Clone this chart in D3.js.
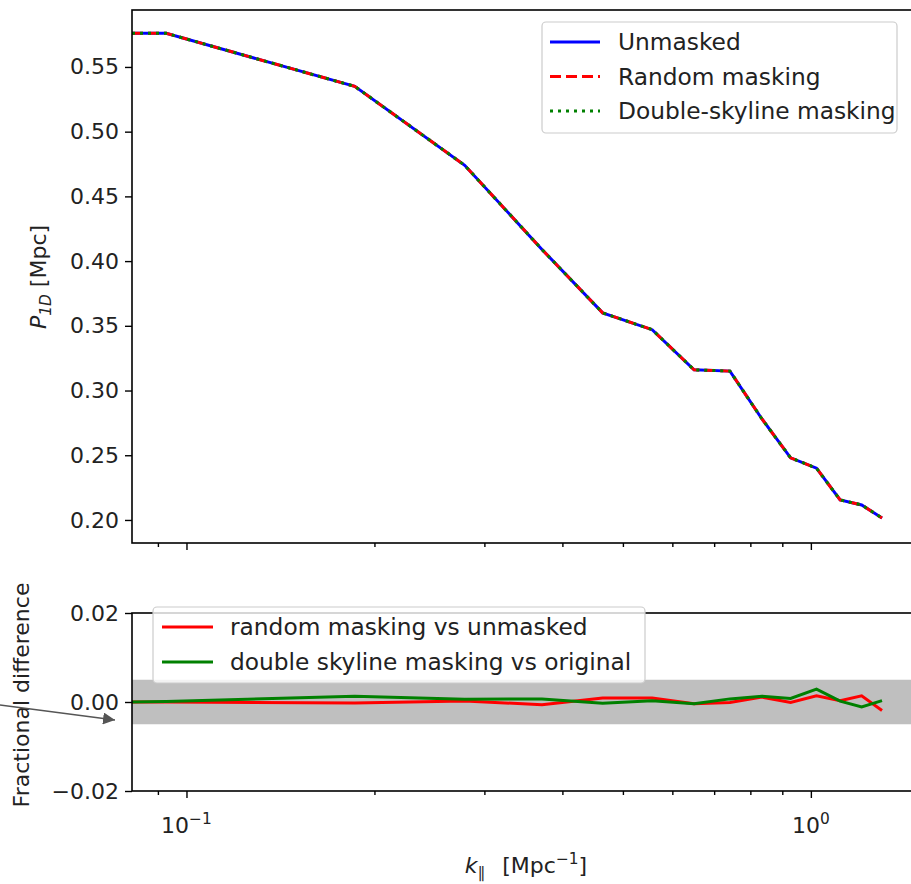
<!DOCTYPE html>
<html>
<head>
<meta charset="utf-8">
<script src="https://cdn.jsdelivr.net/npm/d3@7"></script>
<style>
  body { margin: 0; background: #fff; }
  text { font-family: "DejaVu Sans", sans-serif; fill: #222; }
</style>
</head>
<body>
<script>
// k_parallel [1/Mpc]
var kVals = [0.0818, 0.0928, 0.186, 0.279, 0.371, 0.464, 0.557, 0.650, 0.742, 0.835, 0.928, 1.021, 1.114, 1.206, 1.300];

// P1D [Mpc]
var p1dUnmasked = [0.576, 0.576, 0.535, 0.474, 0.409, 0.360, 0.347, 0.316, 0.315, 0.278, 0.248, 0.240, 0.2155, 0.2116, 0.2015];
var p1dRandom   = [0.576, 0.576, 0.535, 0.474, 0.409, 0.360, 0.347, 0.316, 0.315, 0.278, 0.248, 0.240, 0.2155, 0.2116, 0.2015];
var p1dSkyline  = [0.576, 0.576, 0.535, 0.474, 0.409, 0.360, 0.347, 0.316, 0.315, 0.278, 0.248, 0.240, 0.2155, 0.2116, 0.2015];

// fractional differences
var diffRandom  = [0, 0, -0.0002, 0.0002, -0.0006, 0.0009, 0.0009, -0.0004, -0.0001, 0.0011, -0.0001, 0.0014, 0.0003, 0.0014, -0.0019];
var diffSkyline = [0, 0.0001, 0.0013, 0.0006, 0.0007, -0.0003, 0.0003, -0.0004, 0.0007, 0.0013, 0.0008, 0.0029, 0.0002, -0.0011, 0.0003];

var topTicks = [0.20, 0.25, 0.30, 0.35, 0.40, 0.45, 0.50, 0.55];
var diffTicks = [-0.02, 0.00, 0.02];
var xMajor = [0.1, 1];
var xMinor = [0.09, 0.2, 0.3, 0.4, 0.5, 0.6, 0.7, 0.8, 0.9];

var topLegend = ["Unmasked", "Random masking", "Double-skyline masking"];
var botLegend = ["random masking vs unmasked", "double skyline masking vs original"];

var W = 911, H = 884;
var left = 132, right = 912;
var topY0 = 10, topY1 = 543;
var botY0 = 613, botY1 = 791;
var fs = 22;
var lfs = 23.3;

var svg = d3.select("body").append("svg")
    .attr("width", W)
    .attr("height", H);

svg.append("rect").attr("width", W).attr("height", H).attr("fill", "#fff");

var x = d3.scaleLog().domain([0.0818, 1.452]).range([left, right]);
var yTop = d3.scaleLinear().domain([0.1822, 0.594]).range([topY1, topY0]);
var yBot = d3.scaleLinear().domain([-0.02, 0.02]).range([botY1, botY0]);

var defs = svg.append("defs");
defs.append("clipPath").attr("id", "clipTop").append("rect")
    .attr("x", left).attr("y", topY0).attr("width", right - left).attr("height", topY1 - topY0);
defs.append("clipPath").attr("id", "clipBot").append("rect")
    .attr("x", left).attr("y", botY0).attr("width", right - left).attr("height", botY1 - botY0);
defs.append("marker").attr("id", "arrow")
    .attr("viewBox", "0 0 10 10").attr("refX", 10).attr("refY", 5)
    .attr("markerWidth", 12).attr("markerHeight", 12).attr("markerUnits", "userSpaceOnUse")
    .attr("orient", "auto")
    .append("path").attr("d", "M0,0 L10,5 L0,10 z").attr("fill", "#555");

// ---------- top panel ----------
var topG = svg.append("g").attr("clip-path", "url(#clipTop)");

function lineFor(vals, yScale) {
  return d3.line()
    .x(function(d, i) { return x(kVals[i]); })
    .y(function(d) { return yScale(d); })(vals);
}

topG.append("path").attr("d", lineFor(p1dUnmasked, yTop))
    .attr("fill", "none").attr("stroke", "blue").attr("stroke-width", 3);
topG.append("path").attr("d", lineFor(p1dRandom, yTop))
    .attr("fill", "none").attr("stroke", "red").attr("stroke-width", 3)
    .attr("stroke-dasharray", "11,5");
topG.append("path").attr("d", lineFor(p1dSkyline, yTop))
    .attr("fill", "none").attr("stroke", "green").attr("stroke-width", 3)
    .attr("stroke-dasharray", "3,5");

// y axis top
svg.append("g")
    .attr("transform", "translate(" + left + ",0)")
    .call(d3.axisLeft(yTop).tickValues(topTicks).tickFormat(d3.format(".2f")).tickSize(7).tickPadding(6));

// x axis ticks (no labels) for top
svg.append("g").attr("transform", "translate(0," + topY1 + ")")
    .call(d3.axisBottom(x).tickValues(xMajor).tickFormat("").tickSize(7));
svg.append("g").attr("transform", "translate(0," + topY1 + ")")
    .call(d3.axisBottom(x).tickValues(xMinor).tickFormat("").tickSize(4));

// frame top
svg.append("rect").attr("x", left).attr("y", topY0)
    .attr("width", right - left).attr("height", topY1 - topY0)
    .attr("fill", "none").attr("stroke", "#000").attr("stroke-width", 1.6);

// top legend
var lgT = svg.append("g");
lgT.append("rect").attr("x", 542).attr("y", 22).attr("width", 355).attr("height", 111)
    .attr("rx", 4).attr("fill", "#fff").attr("fill-opacity", 0.8)
    .attr("stroke", "#ccc").attr("stroke-width", 1.2);
var topStyles = [
  { c: "blue", dash: null },
  { c: "red", dash: "11,5" },
  { c: "green", dash: "3,5" }
];
topLegend.forEach(function(t, i) {
  var yy = 42 + i * 34.5;
  lgT.append("line").attr("x1", 550).attr("x2", 600).attr("y1", yy).attr("y2", yy)
     .attr("stroke", topStyles[i].c).attr("stroke-width", 3)
     .attr("stroke-dasharray", topStyles[i].dash);
  lgT.append("text").attr("x", 618).attr("y", yy).attr("dy", "0.35em")
     .attr("font-size", lfs).text(t);
});

// top y label
var ylT = svg.append("text")
    .attr("transform", "translate(46,277) rotate(-90)")
    .attr("text-anchor", "middle")
    .attr("font-size", fs);
ylT.append("tspan").attr("font-style", "italic").text("P");
ylT.append("tspan").attr("font-style", "italic").attr("font-size", fs * 0.7).attr("dy", 5).text("1D");
ylT.append("tspan").attr("dy", -5).text(" [Mpc]");

// ---------- bottom panel ----------
svg.append("rect").attr("x", left).attr("y", yBot(0.005))
    .attr("width", right - left).attr("height", yBot(-0.005) - yBot(0.005))
    .attr("fill", "#bfbfbf");

var botG = svg.append("g").attr("clip-path", "url(#clipBot)");
botG.append("path").attr("d", lineFor(diffRandom, yBot))
    .attr("fill", "none").attr("stroke", "red").attr("stroke-width", 3);
botG.append("path").attr("d", lineFor(diffSkyline, yBot))
    .attr("fill", "none").attr("stroke", "green").attr("stroke-width", 3);

svg.append("g")
    .attr("transform", "translate(" + left + ",0)")
    .call(d3.axisLeft(yBot).tickValues(diffTicks)
      .tickFormat(function(d) { return d3.format(".2f")(d).replace("-", "\u2212"); })
      .tickSize(7).tickPadding(6));

svg.append("g").attr("transform", "translate(0," + botY1 + ")")
    .call(d3.axisBottom(x).tickValues(xMajor).tickFormat("").tickSize(7));
svg.append("g").attr("transform", "translate(0," + botY1 + ")")
    .call(d3.axisBottom(x).tickValues(xMinor).tickFormat("").tickSize(4));

// x tick labels 10^-1, 10^0
xMajor.forEach(function(v) {
  var t = svg.append("text").attr("x", x(v)).attr("y", 833)
      .attr("text-anchor", "middle").attr("font-size", fs);
  t.append("tspan").text("10");
  t.append("tspan").attr("dy", -9).attr("font-size", fs * 0.7)
      .text(v < 1 ? "\u22121" : "0");
});

svg.append("rect").attr("x", left).attr("y", botY0)
    .attr("width", right - left).attr("height", botY1 - botY0)
    .attr("fill", "none").attr("stroke", "#000").attr("stroke-width", 1.6);

// bottom legend
var lgB = svg.append("g");
lgB.append("rect").attr("x", 153).attr("y", 607).attr("width", 492).attr("height", 76)
    .attr("rx", 4).attr("fill", "#fff").attr("fill-opacity", 0.8)
    .attr("stroke", "#ccc").attr("stroke-width", 1.2);
var botColors = ["red", "green"];
botLegend.forEach(function(t, i) {
  var yy = 627 + i * 35;
  lgB.append("line").attr("x1", 162).attr("x2", 213).attr("y1", yy).attr("y2", yy)
     .attr("stroke", botColors[i]).attr("stroke-width", 3);
  lgB.append("text").attr("x", 230).attr("y", yy).attr("dy", "0.35em")
     .attr("font-size", lfs).text(t);
});

// bottom y label
svg.append("text")
    .attr("transform", "translate(29,695) rotate(-90)")
    .attr("text-anchor", "middle")
    .attr("font-size", fs)
    .text("Fractional difference");

// arrow annotation
svg.append("line").attr("x1", 0).attr("y1", 705).attr("x2", 115).attr("y2", 720)
    .attr("stroke", "#555").attr("stroke-width", 1.3)
    .attr("marker-end", "url(#arrow)");

// x label
var xl = svg.append("text").attr("x", 526).attr("y", 873)
    .attr("text-anchor", "middle").attr("font-size", fs);
xl.append("tspan").attr("font-style", "italic").text("k");
xl.append("tspan").attr("font-size", fs * 0.7).attr("dy", 5).text("\u2225");
xl.append("tspan").attr("dy", -5).attr("dx", 10).text(" [Mpc");
xl.append("tspan").attr("font-size", fs * 0.7).attr("dy", -9).text("\u22121");
xl.append("tspan").attr("dy", 9).text("]");

// axis styling
svg.selectAll(".domain").remove();
svg.selectAll(".tick line").attr("stroke", "#000").attr("stroke-width", 1.4);
svg.selectAll(".tick text").attr("font-size", fs).attr("fill", "#222")
    .attr("font-family", "DejaVu Sans, sans-serif");
</script>
</body>
</html>
